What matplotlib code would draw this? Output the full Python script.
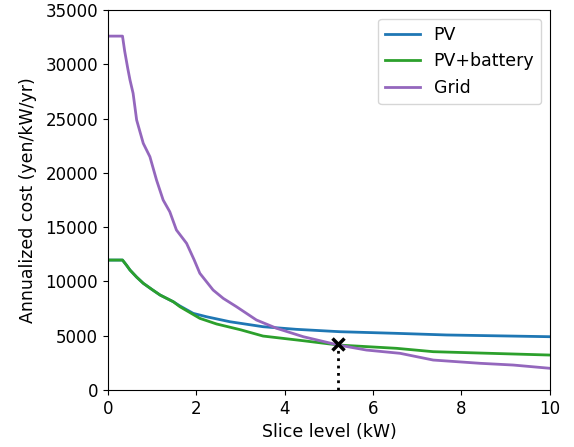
import matplotlib
matplotlib.use('Agg')
import matplotlib.pyplot as plt

# slice level (kW) and annualized cost (yen/kW/yr)
pv_x = [0.0, 0.33, 0.42, 0.50, 0.65, 0.80, 1.00, 1.18, 1.48, 1.63, 1.93, 2.23, 2.76, 3.51, 4.26, 5.25, 6.53, 7.66, 10.0]
pv_y = [11970, 11970, 11500, 11050, 10400, 9830, 9250, 8750, 8130, 7740, 7060, 6750, 6290, 5830, 5590, 5370, 5220, 5070, 4910]

batt_x = [0.0, 0.33, 0.42, 0.50, 0.65, 0.80, 1.00, 1.18, 1.48, 1.63, 2.08, 2.46, 3.00, 3.51, 4.42, 5.21, 6.53, 7.36, 10.0]
batt_y = [11970, 11970, 11500, 11050, 10400, 9830, 9250, 8750, 8130, 7670, 6600, 6080, 5550, 4970, 4540, 4145, 3840, 3530, 3220]

grid_x = [0.0, 0.33, 0.38, 0.45, 0.50, 0.57, 0.65, 0.80, 0.95, 1.10, 1.25, 1.40, 1.55, 1.78, 1.95, 2.08, 2.38,
          2.61, 2.91, 3.36, 3.82, 4.42, 5.21, 5.85, 6.61, 7.36, 8.42, 9.17, 10.0]
grid_y = [32600, 32600, 31200, 29600, 28550, 27330, 24870, 22720, 21490, 19340, 17500, 16420, 14740, 13510, 12000, 10750, 9210,
          8440, 7670, 6450, 5680, 4910, 4145, 3680, 3380, 2760, 2460, 2300, 2000]

cross_x = 5.2
cross_y = 4200

fig = plt.figure(figsize=(5.74, 4.47), dpi=100)
ax = fig.add_axes([0.188, 0.1275, 0.770, 0.850])

ax.plot(pv_x, pv_y, color='#1f77b4', lw=2, label='PV')
ax.plot(batt_x, batt_y, color='#2ca02c', lw=2, label='PV+battery')
ax.plot(grid_x, grid_y, color='#9467bd', lw=2, label='Grid')
ax.plot([cross_x, cross_x], [0, cross_y], color='k', ls=':', lw=2)
ax.plot([cross_x], [cross_y], marker='x', color='k', ms=8, mew=2.5)

ax.set_xlim(0, 10)
ax.set_ylim(0, 35000)
ax.set_xticks([0, 2, 4, 6, 8, 10])
ax.set_yticks(range(0, 35001, 5000))
ax.tick_params(labelsize=12)
ax.set_xlabel('Slice level (kW)', fontsize=12.5)
ax.set_ylabel('Annualized cost (yen/kW/yr)', fontsize=12.5, labelpad=6)
ax.legend(loc='upper right', fontsize=12.5)

fig.savefig('out.png', dpi=100)
